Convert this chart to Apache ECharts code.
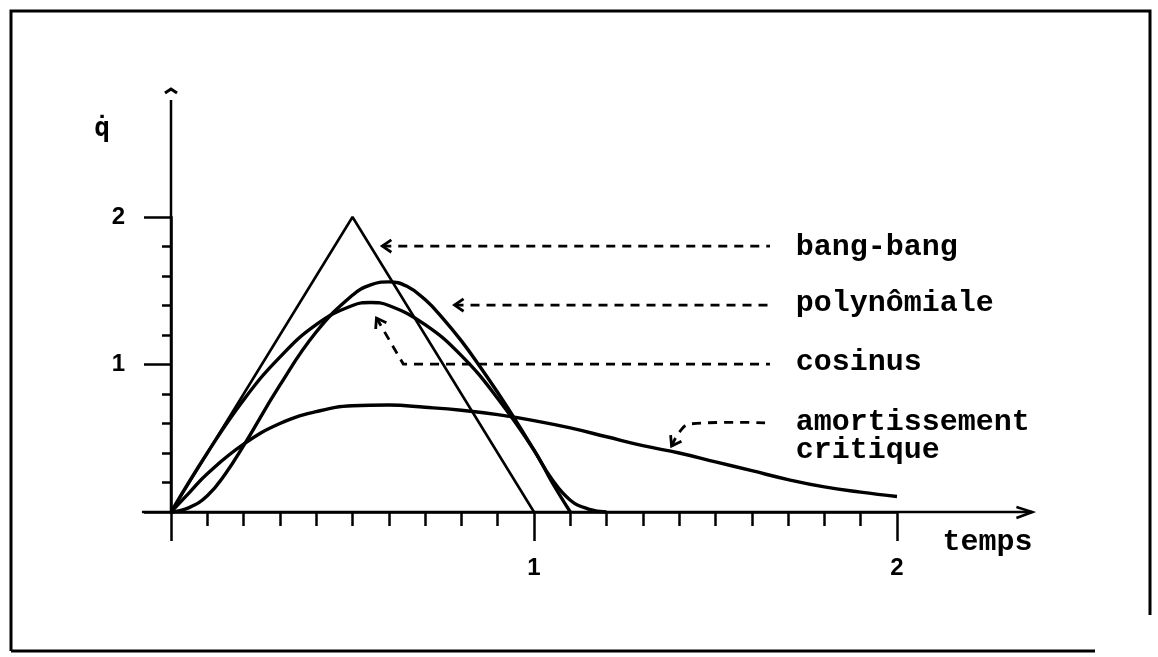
<!DOCTYPE html>
<html>
<head>
<meta charset="utf-8">
<script src="https://cdn.jsdelivr.net/npm/echarts@6/dist/echarts.min.js"></script>
<style>
  html, body { margin: 0; padding: 0; background: #fff; }
  #chart { width: 1158px; height: 657px; }
</style>
</head>
<body>
<div id="chart"></div>
<script>
// ---- data ----
const bangBangX = [0, 0.5, 1.0];
const bangBangY = [0, 2.0, 0];

const polyX = [0, 0.05, 0.1, 0.15, 0.2, 0.3, 0.4, 0.5, 0.55, 0.6, 0.65, 0.7, 0.75, 0.8, 0.85, 0.9, 0.95, 1.0, 1.05, 1.1, 1.15, 1.2];
const polyY = [0, 0.03, 0.11, 0.26, 0.45, 0.86, 1.22, 1.47, 1.54, 1.56, 1.53, 1.44, 1.31, 1.16, 0.99, 0.81, 0.62, 0.42, 0.22, 0.08, 0.02, 0];

const cosX = [0, 0.1, 0.2, 0.3, 0.4, 0.5, 0.55, 0.6, 0.7, 0.8, 0.9, 1.0, 1.05, 1.1];
const cosY = [0, 0.40, 0.76, 1.05, 1.27, 1.40, 1.42, 1.40, 1.27, 1.06, 0.77, 0.42, 0.20, 0];

const amortX = [0, 0.05, 0.1, 0.2, 0.3, 0.4, 0.5, 0.6, 0.7, 0.8, 0.9, 1.0, 1.1, 1.2, 1.3, 1.4, 1.5, 1.6, 1.7, 1.8, 1.9, 2.0];
const amortY = [0, 0.13, 0.26, 0.46, 0.60, 0.68, 0.72, 0.725, 0.71, 0.69, 0.66, 0.62, 0.57, 0.51, 0.45, 0.40, 0.34, 0.28, 0.22, 0.17, 0.135, 0.105];

const xTickLabels = ['', '1', '2'];   // at 0, 1, 2
const yTickLabels = ['', '1', '2'];   // at 0, 1, 2
const xAxisName = 'temps';
const yAxisName = 'q\u0307';

const annoNames = ['bang-bang', 'polynômiale', 'cosinus', 'amortissement\ncritique'];

// ---- annotation geometry (in data units) ----
const annoText = [[1.721, 1.797], [1.721, 1.417], [1.721, 1.017], [1.721, 0.515]];
const annoPaths = [
  [[0.582, 1.803], [1.650, 1.803]],
  [[0.781, 1.403], [1.650, 1.403]],
  [[0.566, 1.315], [0.640, 1.003], [1.650, 1.003]],
  [[1.379, 0.447], [1.401, 0.543], [1.429, 0.597], [1.650, 0.603]]
];
const axisExtX = [-0.08, 2.373];
const axisExtY = [0, 2.793];
const capY = 2.861;

const zip = (xs, ys) => xs.map((x, i) => [x, ys[i]]);

const chart = echarts.init(document.getElementById('chart'), null, { renderer: 'canvas' });

const MONO = '"Liberation Mono", "DejaVu Sans Mono", monospace';
const SANS = '"Liberation Sans", Arial, sans-serif';

function chevron(tip, from, len, ang) {
  const dx = from[0] - tip[0], dy = from[1] - tip[1];
  const d = Math.hypot(dx, dy) || 1;
  const ux = dx / d, uy = dy / d;
  const rot = (a) => [tip[0] + len * (ux * Math.cos(a) - uy * Math.sin(a)),
                      tip[1] + len * (ux * Math.sin(a) + uy * Math.cos(a))];
  return [rot(ang), tip, rot(-ang)];
}

const option = {
  animation: false,
  backgroundColor: '#fff',
  grid: { left: 171, top: 217, width: 726, height: 295, containLabel: false, outerBoundsMode: 'none' },
  xAxis: {
    type: 'value', min: 0, max: 2, interval: 1,
    axisLine: { show: true, onZero: false, lineStyle: { color: '#000', width: 2.5 } },
    axisTick: { show: true, length: 29, lineStyle: { color: '#000', width: 2.5 } },
    minorTick: { show: true, splitNumber: 10, length: 14, lineStyle: { color: '#000', width: 2.5 } },
    splitLine: { show: false },
    axisLabel: {
      margin: 44, color: '#000', fontFamily: SANS, fontSize: 24, fontWeight: 'bold',
      formatter: (v) => xTickLabels[Math.round(v)] || ''
    }
  },
  yAxis: {
    type: 'value', min: 0, max: 2, interval: 1,
    axisLine: { show: true, onZero: false, lineStyle: { color: '#000', width: 2.5 } },
    axisTick: { show: true, length: 27, lineStyle: { color: '#000', width: 2.5 } },
    minorTick: { show: true, splitNumber: 5, length: 9, lineStyle: { color: '#000', width: 2.5 } },
    splitLine: { show: false },
    axisLabel: {
      margin: 46, color: '#000', fontFamily: SANS, fontSize: 24, fontWeight: 'bold',
      formatter: (v) => yTickLabels[Math.round(v)] || ''
    }
  },
  graphic: [
    { type: 'polyline', shape: { points: [[11, 651], [11, 11], [1150, 11], [1150, 615]] },
      style: { stroke: '#000', lineWidth: 3, fill: null } },
    { type: 'polyline', shape: { points: [[11, 651], [1095, 651]] },
      style: { stroke: '#000', lineWidth: 3, fill: null } }
  ],
  series: [
    {
      name: 'bang-bang', type: 'line', data: zip(bangBangX, bangBangY),
      symbol: 'none', lineStyle: { color: '#000', width: 2.6 }, clip: false
    },
    {
      name: 'polynômiale', type: 'line', data: zip(polyX, polyY),
      symbol: 'none', smooth: 0.45, lineStyle: { color: '#000', width: 3.4 }, clip: false
    },
    {
      name: 'cosinus', type: 'line', data: zip(cosX, cosY),
      symbol: 'none', smooth: 0.45, lineStyle: { color: '#000', width: 3.4 }, clip: false
    },
    {
      name: 'amortissement critique', type: 'line', data: zip(amortX, amortY),
      symbol: 'none', smooth: 0.45, lineStyle: { color: '#000', width: 3.4 }, clip: false
    },
    {
      // axis extensions, arrow, axis names
      name: 'axes', type: 'custom', silent: true, clip: false,
      data: [[0, 0]],
      renderItem: function (params, api) {
        const xa = api.coord([axisExtX[0], 0]);
        const xb = api.coord([axisExtX[1], 0]);
        const ya = api.coord([0, axisExtY[0]]);
        const yb = api.coord([0, axisExtY[1]]);
        const cap = api.coord([0, capY]);
        const ls = { stroke: '#000', lineWidth: 2.5, fill: null };
        return {
          type: 'group',
          children: [
            { type: 'line', shape: { x1: xa[0], y1: xa[1], x2: xb[0], y2: xb[1] }, style: ls },
            { type: 'polyline', shape: { points: [[xb[0] - 16, xb[1] - 5], [xb[0], xb[1]], [xb[0] - 16, xb[1] + 6]] }, style: ls },
            { type: 'line', shape: { x1: ya[0], y1: ya[1], x2: yb[0], y2: yb[1] }, style: ls },
            { type: 'polyline', shape: { points: [[cap[0] - 6, cap[1] + 3], [cap[0], cap[1] - 1], [cap[0] + 6, cap[1] + 3]] }, style: { stroke: '#000', lineWidth: 3, fill: null } },
            { type: 'text', x: xb[0], y: xb[1] + 30,
              style: { text: xAxisName, font: 'bold 30px ' + MONO, fill: '#000', align: 'right', verticalAlign: 'middle' } },
            { type: 'text', x: ya[0] - 69, y: yb[1] + 29,
              style: { text: yAxisName, font: 'bold 26px "DejaVu Sans Mono", monospace', fill: '#000', align: 'center', verticalAlign: 'middle' } }
          ]
        };
      }
    },
    {
      // annotations: labels + dashed arrows
      name: 'annotations', type: 'custom', silent: true, clip: false,
      data: annoText,
      renderItem: function (params, api) {
        const i = params.dataIndex;
        const tp = api.coord(annoText[i]);
        const pts = annoPaths[i].map((p) => api.coord(p));
        const head = chevron(pts[0], pts[1], 11, 0.6);
        return {
          type: 'group',
          children: [
            { type: 'polyline', shape: { points: pts, smooth: i === 3 ? 0.4 : 0 },
              style: { stroke: '#000', lineWidth: 2.8, lineDash: [9, 7], fill: null } },
            { type: 'polyline', shape: { points: head },
              style: { stroke: '#000', lineWidth: 2.8, fill: null } },
            { type: 'text', x: tp[0], y: tp[1],
              style: { text: annoNames[i], font: 'bold 30px ' + MONO, lineHeight: 28, fill: '#000', align: 'left', verticalAlign: 'middle' } }
          ]
        };
      }
    }
  ]
};

chart.setOption(option);
</script>
</body>
</html>
